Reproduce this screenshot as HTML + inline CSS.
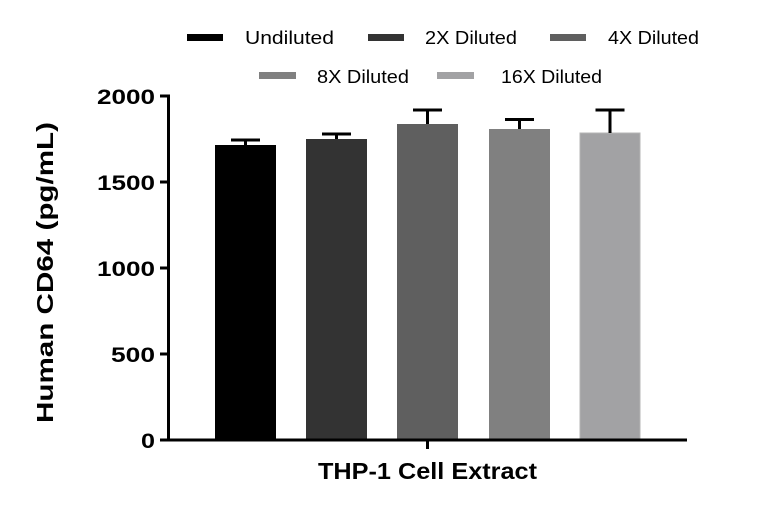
<!DOCTYPE html>
<html>
<head>
<meta charset="utf-8">
<style>
  html, body { margin:0; padding:0; background:#fff; }
  svg { display:block; }
  text { font-family: "Liberation Sans", "DejaVu Sans", sans-serif; fill:#000; }
</style>
</head>
<body>
<svg width="768" height="508" viewBox="0 0 768 508" xmlns="http://www.w3.org/2000/svg">
  <rect width="768" height="508" fill="#fff"/>

  <!-- Legend row 1 -->
  <rect x="187" y="34" width="36" height="7" fill="#000"/>
  <text x="245" y="44" font-size="18" textLength="89" lengthAdjust="spacingAndGlyphs">Undiluted</text>
  <rect x="368" y="34" width="36" height="7" fill="#333333"/>
  <text x="425" y="44" font-size="18" textLength="92" lengthAdjust="spacingAndGlyphs">2X Diluted</text>
  <rect x="550" y="34" width="36" height="7" fill="#5f5f5f"/>
  <text x="608" y="44" font-size="18" textLength="91" lengthAdjust="spacingAndGlyphs">4X Diluted</text>

  <!-- Legend row 2 -->
  <rect x="259" y="72" width="37" height="7" fill="#808080"/>
  <text x="317" y="83" font-size="18" textLength="92" lengthAdjust="spacingAndGlyphs">8X Diluted</text>
  <rect x="437" y="72" width="37" height="7" fill="#a2a2a4"/>
  <text x="501" y="83" font-size="18" textLength="101" lengthAdjust="spacingAndGlyphs">16X Diluted</text>

  <!-- Bars -->
  <rect x="215" y="145" width="61" height="295" fill="#000"/>
  <rect x="306" y="139" width="61" height="301" fill="#333333"/>
  <rect x="397" y="124" width="61" height="316" fill="#5f5f5f"/>
  <rect x="489" y="129" width="61" height="311" fill="#808080"/>
  <rect x="580" y="133" width="60" height="307" fill="#a2a2a4" stroke="#b4b4b4" stroke-width="1"/>

  <!-- Error bars -->
  <g stroke="#000" stroke-width="3" fill="none">
    <line x1="245.5" y1="140" x2="245.5" y2="145"/>
    <line x1="231" y1="140" x2="260" y2="140"/>
    <line x1="336.5" y1="134" x2="336.5" y2="139"/>
    <line x1="322" y1="134" x2="351" y2="134"/>
    <line x1="427.5" y1="110" x2="427.5" y2="124"/>
    <line x1="413" y1="110" x2="442" y2="110"/>
    <line x1="519.5" y1="119.5" x2="519.5" y2="129"/>
    <line x1="505" y1="119.5" x2="534" y2="119.5"/>
    <line x1="610" y1="110" x2="610" y2="133"/>
    <line x1="595.5" y1="110" x2="624.5" y2="110"/>
  </g>

  <!-- Axes -->
  <g stroke="#000" stroke-width="3" fill="none">
    <line x1="168.5" y1="95" x2="168.5" y2="441"/>
    <line x1="160" y1="440" x2="687" y2="440"/>
    <line x1="160" y1="96" x2="170" y2="96"/>
    <line x1="160" y1="182" x2="170" y2="182"/>
    <line x1="160" y1="268" x2="170" y2="268"/>
    <line x1="160" y1="354" x2="170" y2="354"/>
    <line x1="427.5" y1="440" x2="427.5" y2="449"/>
  </g>

  <!-- Y tick labels -->
  <g font-size="21" font-weight="bold" text-anchor="end">
    <text x="155" y="104" textLength="58" lengthAdjust="spacingAndGlyphs">2000</text>
    <text x="155" y="190" textLength="58" lengthAdjust="spacingAndGlyphs">1500</text>
    <text x="155" y="276" textLength="58" lengthAdjust="spacingAndGlyphs">1000</text>
    <text x="155" y="362" textLength="44" lengthAdjust="spacingAndGlyphs">500</text>
    <text x="155" y="448" textLength="14" lengthAdjust="spacingAndGlyphs">0</text>
  </g>

  <!-- X axis label -->
  <text x="318" y="479" font-size="23" font-weight="bold" textLength="219" lengthAdjust="spacingAndGlyphs">THP-1 Cell Extract</text>

  <!-- Y axis label -->
  <text transform="translate(53,423) rotate(-90)" font-size="23" font-weight="bold" textLength="301" lengthAdjust="spacingAndGlyphs">Human CD64 (pg/mL)</text>
</svg>
</body>
</html>
